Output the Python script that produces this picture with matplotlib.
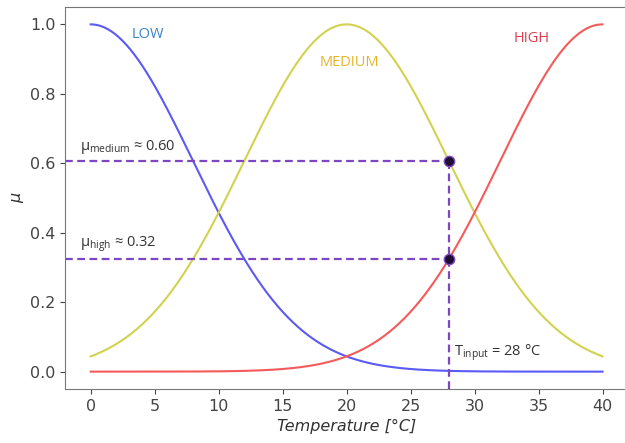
import numpy as np
import matplotlib
matplotlib.use("Agg")
from matplotlib import pyplot as plt

# membership functions (gaussian)
labels = ["LOW", "MEDIUM", "HIGH"]
centers = [0, 20, 40]
sigma = 8.0
line_colors = ["#5a5af5", "#d2d250", "#f55a5a"]
text_colors = ["#3c82c8", "#e6b428", "#e03c50"]
label_pos = [(4.5, 0.97), (20.2, 0.89), (34.5, 0.96)]

t_input = 28
mu_medium = 0.607
mu_high = 0.325

temps = np.linspace(0, 40, 401)

fig = plt.figure(figsize=(6.25, 4.43), dpi=100)
ax = fig.add_axes([65.1 / 625, 1 - 389 / 443, 563 / 625, 382 / 443])

for lab, c, lc, tc, pos in zip(labels, centers, line_colors, text_colors, label_pos):
    mu = np.exp(-(temps - c) ** 2 / (2 * sigma ** 2))
    ax.plot(temps, mu, color=lc, lw=1.5)
    ax.text(pos[0], pos[1], lab, color=tc, ha="center", va="center",
            fontsize=10.5, family="Open Sans")

purple = "#7d46c3"
for m in [mu_medium, mu_high]:
    ax.plot([-2, t_input], [m, m], ls="--", color=purple, lw=1.6, dashes=(3.5, 2))
ax.plot([t_input, t_input], [-0.05, mu_medium], ls="--", color=purple, lw=1.6, dashes=(3.5, 2))
ax.scatter([t_input, t_input], [mu_medium, mu_high], s=55, color="#1e0f32",
           edgecolor=purple, zorder=5)

ax.text(-0.8, mu_medium + 0.015, r"$\mathregular{\mu_{medium}}$ ≈ 0.60", fontsize=10.5,
        color="#333333", va="bottom", family="Open Sans")
ax.text(-0.8, mu_high + 0.015, r"$\mathregular{\mu_{high}}$ ≈ 0.32", fontsize=10.5,
        color="#333333", va="bottom", family="Open Sans")
ax.text(28.4, 0.055, r"$\mathregular{T_{input}}$ = 28 °C", fontsize=10.5,
        color="#333333", va="center", family="Open Sans")

ax.set_xlim(-2, 42)
ax.set_ylim(-0.05, 1.05)
ax.set_xticks(range(0, 41, 5))
ax.set_yticks([0.0, 0.2, 0.4, 0.6, 0.8, 1.0])
ax.set_xlabel("Temperature [°C]", style="italic", fontsize=11.5, color="#333333")
ax.set_ylabel("μ", style="italic", fontsize=11.5, color="#333333")
ax.tick_params(labelsize=11.5, colors="#444444")
for s in ax.spines.values():
    s.set_color("#777777")

fig.savefig("out.png", dpi=100)
